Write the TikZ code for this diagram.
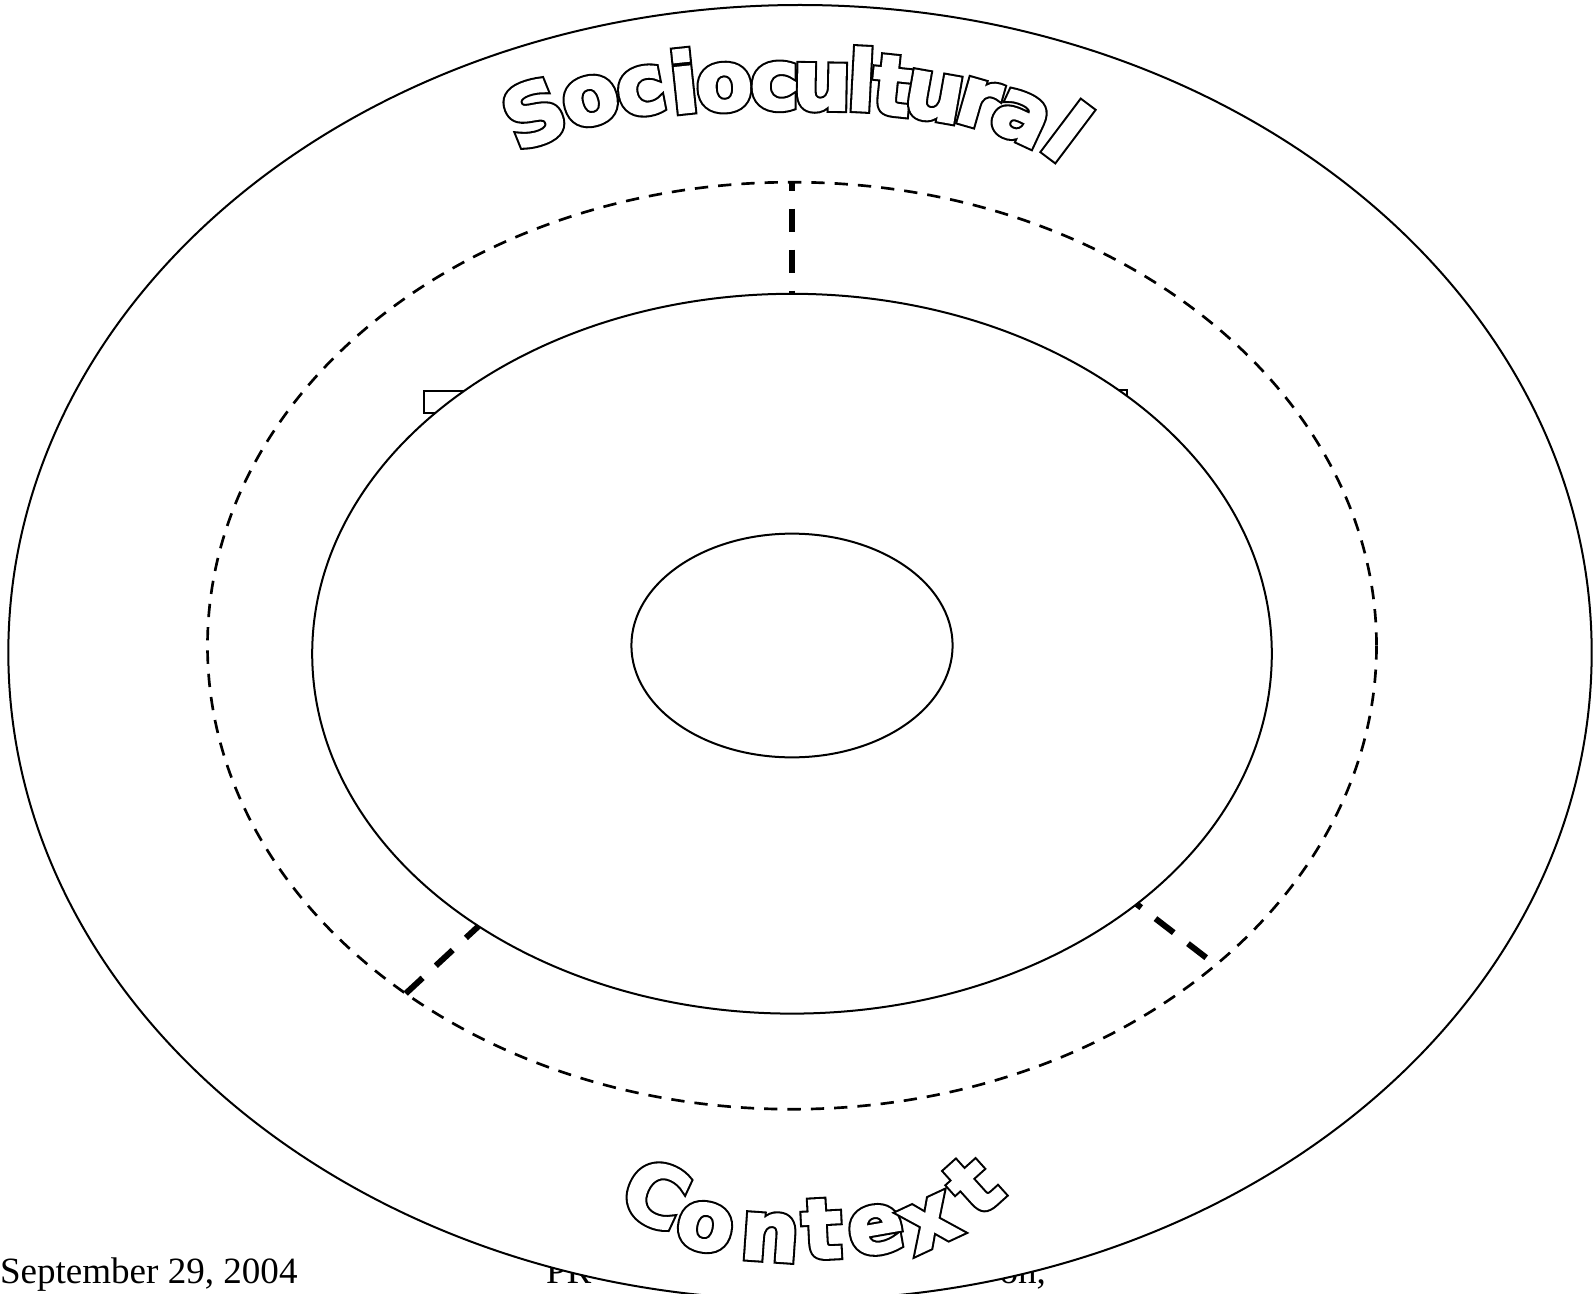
\documentclass[tikz,border=0pt]{standalone}
\usepackage{fontspec}
\usetikzlibrary{shapes.geometric}
\newfontfamily\tnrfont{Liberation Serif}
\newfontfamily\wafontW{DejaVu Sans Bold}[FakeBold=2.5]
\newfontfamily\wafontK{DejaVu Sans Bold}[FakeBold=7.5]
\newcommand\wartl[1]{\makebox[0pt][l]{\color{black}\wafontK #1}{\color{white}\wafontW #1}}
\begin{document}
\begin{tikzpicture}[x=0.75pt,y=-0.75pt,
  ring/.style={draw=black, line width=1.5pt, shape=ellipse, inner sep=0pt, outer sep=0pt},
  dashring/.style={ring, line width=2pt, dash pattern=on 10pt off 7.5pt},
  link/.style={line width=4.5pt, dash pattern=on 17.25pt off 13.5pt},
  lt/.style={inner sep=0pt, outer sep=0pt, font=\fontsize{62}{62}\selectfont},
  foot/.style={inner sep=0pt, outer sep=0pt, font=\tnrfont\fontsize{27.8}{28}\selectfont},
  tab/.style={draw=black, line width=1.5pt, fill=white, inner sep=0pt, minimum width=112pt, minimum height=16.7pt}
]
\useasboundingbox (0,0) rectangle (1594,1294);
\fill[white] (0,0) rectangle (1594,1294);
\clip (0,0) rectangle (1594,1294);

% footer texts (partly hidden by the outer ellipse)
\node[foot, anchor=base west] (date) at (0,1283) {September 29, 2004};
\node[foot, anchor=base west] (pr) at (546,1283) {PR};
\node[foot, anchor=base east] (on) at (1046,1283) {on,};

% rings
\node[ring, fill=white, minimum width=1187.5pt, minimum height=971.25pt] (out) at (800,652.5) {};
\node[dashring, minimum width=876.75pt, minimum height=695.25pt] (dsh) at (792,645.7) {};
\node[tab, anchor=north west] (lbox) at (423.3,390) {};
\node[tab, anchor=north east] (rbox) at (1128.3,389.3) {};
\node[ring, fill=white, minimum width=719.7pt, minimum height=539.85pt] (inn) at (792,653.7) {};
\node[ring, minimum width=240.9pt, minimum height=167.8pt] (core) at (792,645.5) {};

% connectors
\draw[link, dash phase=11pt] (dsh.north) -- (inn.north);
\draw[link] (dsh.222.5) -- (inn.221.5);
\draw[link, shorten <=9pt] (dsh.323.3) -- (inn.324.4);

% Sociocultural
\node[lt, rotate=22]  (s1)  at (534,113) {\wartl{S}};
\node[lt, rotate=16]  (s2)  at (590.7,101) {\wartl{o}};
\node[lt, rotate=11]  (s3)  at (641.3,91.5) {\wartl{c}};
\node[lt, rotate=6]   (s4)  at (683.6,81) {\wartl{i}};
\node[lt, rotate=3]   (s5)  at (724.4,87.6) {\wartl{o}};
\node[lt, rotate=0]   (s6)  at (774.6,86.4) {\wartl{c}};
\node[lt, rotate=-1]  (s7)  at (822,87.6) {\wartl{u}};
\node[lt, rotate=-3]  (s8)  at (861.6,79) {\wartl{l}};
\node[lt, rotate=-6]  (s9)  at (892.4,85.6) {\wartl{t}};
\node[lt, rotate=-10] (s10) at (934,97.4) {\wartl{u}};
\node[lt, rotate=-16] (s11) at (978,103.4) {\wartl{r}};
\node[lt, rotate=-25] (s12) at (1021,118) {\wartl{a}};
\node[lt, rotate=-37] (s13) at (1068,131) {\wartl{l}};

% Context
\node[lt, rotate=-25] (c1) at (656,1194) {\wartl{C}};
\node[lt, rotate=-12] (c2) at (705,1227) {\wartl{o}};
\node[lt, rotate=-4]  (c3) at (770,1237) {\wartl{n}};
\node[lt, rotate=3]   (c4) at (822,1229) {\wartl{t}};
\node[lt, rotate=10]  (c5) at (876,1230) {\wartl{e}};
\node[lt, rotate=25]  (c6) at (930,1223) {\wartl{x}};
\node[lt, rotate=42]  (c7) at (973,1185) {\wartl{t}};
\end{tikzpicture}
\end{document}
